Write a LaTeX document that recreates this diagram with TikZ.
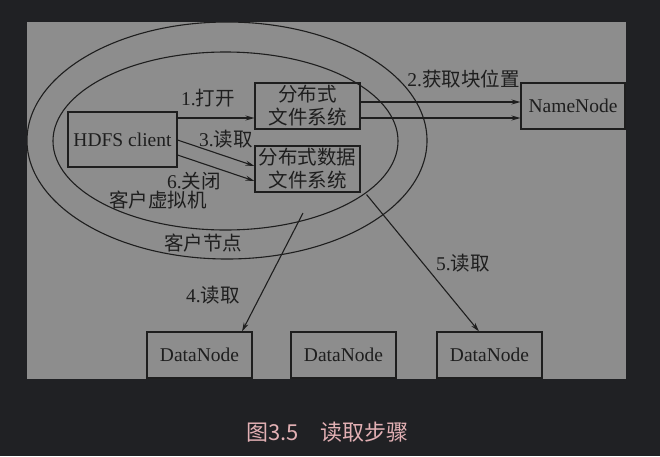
\documentclass[tikz,border=0pt]{standalone}
\usepackage{fontspec}
\setmainfont{Liberation Serif}
\newfontfamily\cjk{Noto Sans CJK SC}
\usetikzlibrary{arrows.meta}
\definecolor{bgdark}{RGB}{32,33,36}
\definecolor{panel}{RGB}{141,141,141}
\definecolor{ink}{RGB}{30,30,30}
\definecolor{capcol}{RGB}{226,176,180}
\begin{document}
\begin{tikzpicture}[x=1pt,y=-1pt,
  box/.style={draw=ink, line width=1.1pt, inner sep=0pt, minimum width=105pt, minimum height=46pt,
    text=ink, align=center, font=\fontsize{19.5}{23}\selectfont},
  lbl/.style={text=ink, inner sep=0pt, font=\fontsize{19.5}{23}\selectfont},
  arr/.style={draw=ink, line width=1.1pt, -{Stealth[length=9pt,width=5pt]}},
  ring/.style={draw=ink, line width=1.1pt}]
\fill[bgdark] (0,0) rectangle (660,456);
\useasboundingbox (0,0) rectangle (660,456);
\fill[panel] (27,22) rectangle (626,379);
\begin{scope}
  \clip (27,22) rectangle (626,379);
  \draw[ring] (227,140.5) ellipse [x radius=200, y radius=118.5];
  \draw[ring] (225.5,141) ellipse [x radius=172.5, y radius=89];
\end{scope}

\node[box, minimum width=109pt, minimum height=55pt] (hdfs) at (122.5,139.5) {HDFS client};
\node[box] (fs1) at (307.5,106) {{\cjk 分布式}\\{\cjk 文件系统}};
\node[box] (fs2) at (307.5,169) {{\cjk 分布式数据}\\{\cjk 文件系统}};
\node[box, minimum width=104pt] (nn) at (573,106) {NameNode};
\node[box] (dn1) at (199.5,355) {DataNode};
\node[box] (dn2) at (343.5,355) {DataNode};
\node[box] (dn3) at (489.5,355) {DataNode};

\coordinate (a1) at ([yshift=-12pt]fs1.west);
\draw[arr] (hdfs.east |- a1) -- (a1);
\draw[arr] ([yshift=4pt]fs1.east) -- ([yshift=4pt]nn.west);
\draw[arr] ([yshift=-12pt]fs1.east) -- ([yshift=-12pt]nn.west);
\draw[arr] ([yshift=-0.5pt]hdfs.east) -- ([yshift=3pt]fs2.west);
\draw[arr] ([yshift=-15.5pt]hdfs.east) -- ([yshift=-12pt]fs2.west);
\coordinate (c4) at (303,213);
\draw[arr] (c4) -- ([xshift=42.5pt]dn1.north);
\coordinate (c5) at ([shift={(6pt,-2pt)}]fs2.south east);
\draw[arr] (c5) -- ([xshift=-10.5pt]dn3.north);

\node[lbl] (l1) at (208,98) {1.{\cjk 打开}};
\node[lbl] (l2) at (463.5,79) {2.{\cjk 获取块位置}};
\node[lbl] (l3) at (226,139) {3.{\cjk 读取}};
\node[lbl] (l6) at (194,181) {6.{\cjk 关闭}};
\node[lbl] (l4) at (213,295) {4.{\cjk 读取}};
\node[lbl] (l5) at (463,263) {5.{\cjk 读取}};
\node[lbl] (vm) at (158,200) {\cjk 客户虚拟机};
\node[lbl] (cn) at (203,243) {\cjk 客户节点};

\node[text=capcol, font=\cjk\fontsize{22}{26}\selectfont] (cap) at (327.5,432) {图3.5\quad 读取步骤};
\end{tikzpicture}
\end{document}
